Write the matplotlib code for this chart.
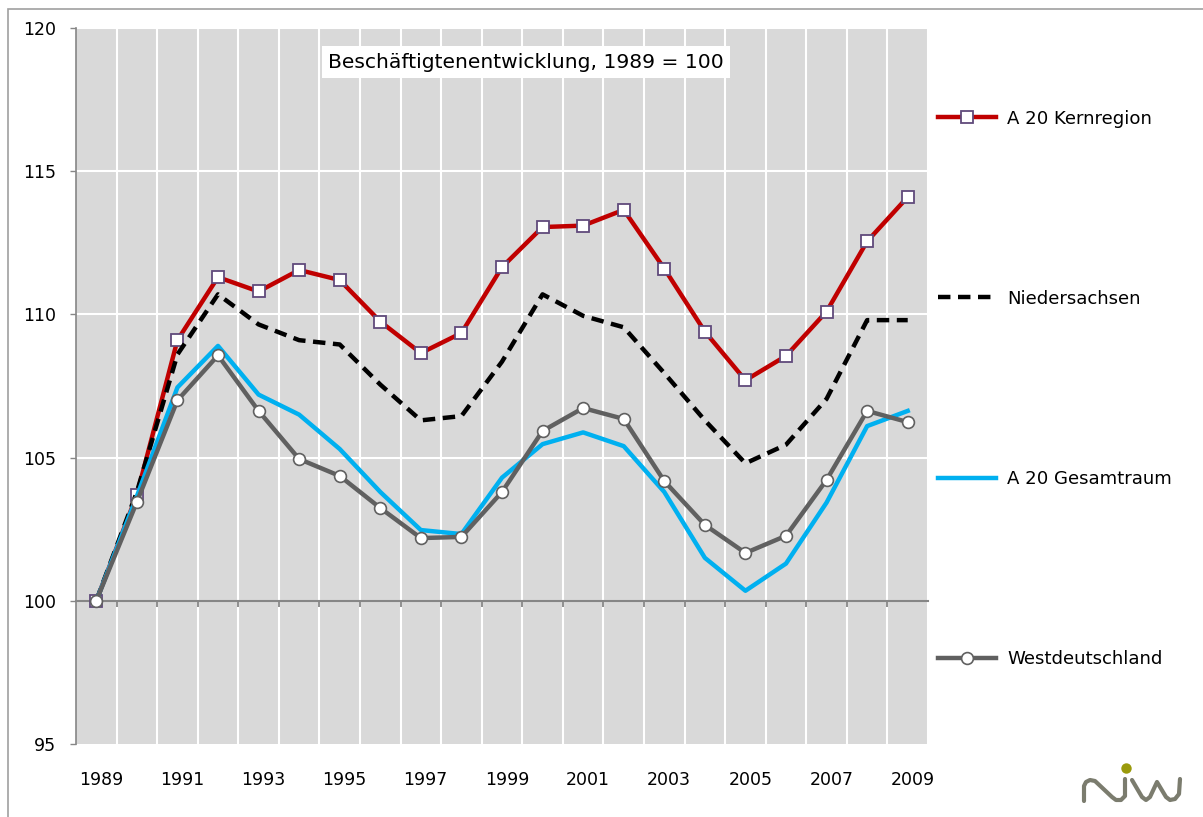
import matplotlib.pyplot as plt
from matplotlib.lines import Line2D
from matplotlib.patches import Rectangle
import numpy as np

plt.rcParams["font.family"] = ["DejaVu Sans"]

years = list(range(1989, 2010))
kernregion = [100, 103.7, 109.1, 111.3, 110.8, 111.55, 111.2, 109.75, 108.65, 109.35,
              111.65, 113.05, 113.1, 113.65, 111.6, 109.4, 107.7, 108.55, 110.1, 112.55, 114.1]
niedersachsen = [100, 103.8, 108.6, 110.7, 109.65, 109.1, 108.95, 107.55, 106.3, 106.45,
                 108.35, 110.7, 109.95, 109.55, 107.95, 106.3, 104.8, 105.45, 107.05, 109.8, 109.8]
gesamtraum = [100, 103.65, 107.45, 108.9, 107.2, 106.5, 105.3, 103.8, 102.47, 102.33,
              104.3, 105.47, 105.88, 105.4, 103.8, 101.5, 100.35, 101.3, 103.43, 106.1, 106.63]
westdeutschland = [100, 103.45, 107.0, 108.57, 106.63, 104.95, 104.36, 103.24, 102.19, 102.23,
                   103.8, 105.93, 106.73, 106.35, 104.18, 102.65, 101.67, 102.27, 104.22, 106.63, 106.24]
labels = ["A 20 Kernregion", "Niedersachsen", "A 20 Gesamtraum", "Westdeutschland"]
title = "Beschäftigtenentwicklung, 1989 = 100"

W, H = 1203, 817
fig = plt.figure(figsize=(W / 100, H / 100), dpi=100)
ax = fig.add_axes([76 / W, 1 - 744 / H, 852 / W, 716 / H])
ax.set_facecolor("#d9d9d9")

x = np.arange(len(years))
l1, = ax.plot(x, kernregion, color="#c00000", lw=3.2, marker="s", ms=9,
              mfc="white", mec="#604a7b", mew=1.3, zorder=3)
l2, = ax.plot(x, niedersachsen, color="black", lw=3.2, ls=(0, (2.8, 1.7)), zorder=4)
l3, = ax.plot(x, gesamtraum, color="#00b0f0", lw=3.2, zorder=5)
l4, = ax.plot(x, westdeutschland, color="#606060", lw=3.2, marker="o", ms=8.5,
              mfc="white", mec="#606060", mew=1.2, zorder=6)

ax.set_xlim(-0.5, len(years) - 0.5)
ax.set_ylim(95, 120)

# white grid: verticals between categories, horizontals at major ticks
for b in np.arange(0.5, len(years), 1.0):
    ax.axvline(b, color="white", lw=1.5, zorder=1)
for yv in [105, 110, 115, 120]:
    ax.axhline(yv, color="white", lw=1.5, zorder=1)

ax.set_yticks([95, 100, 105, 110, 115, 120])
ax.tick_params(axis="y", direction="out", length=4.3, width=1, color="#868686",
               labelsize=12.5, pad=10)
ax.set_xticks(np.arange(0.5, len(years) - 1, 1.0))
ax.set_xticklabels([])
ax.tick_params(axis="x", direction="out", length=4.3, width=1.3, color="#868686")
ax.spines["bottom"].set_position(("data", 100))
ax.spines["bottom"].set_color("#868686")
ax.spines["bottom"].set_linewidth(1.5)
ax.spines["bottom"].set_zorder(2)
ax.spines["left"].set_color("#868686")
ax.spines["left"].set_linewidth(1.2)
ax.spines["top"].set_visible(False)
ax.spines["right"].set_visible(False)

trans = ax.get_xaxis_transform()
for i, yr in enumerate(years):
    if i % 2 == 0:
        ax.text(i + 0.12, -0.05, str(yr), transform=trans, ha="center", va="center",
                fontsize=12.5)

ax.text(0.528, 0.9525, title, transform=ax.transAxes, ha="center", va="center",
        fontsize=14.6, zorder=7,
        bbox=dict(boxstyle="square,pad=0.3", facecolor="white", edgecolor="none"))

fig.legend([l1, l2, l3, l4], labels, loc="center left",
           bbox_to_anchor=(938 / W, 1 - 389 / H), frameon=False, fontsize=13.1,
           handlelength=3.2, handletextpad=0.6, labelspacing=8.92, borderpad=0,
           borderaxespad=0, numpoints=1)

# outer frame (top and left edges)
fig.add_artist(Rectangle((8 / W, -0.1), 1.2, 1 - 9 / H + 0.1, transform=fig.transFigure,
                         fill=False, edgecolor="#a0a0a0", lw=1.2))

# niw logo
def fp(pts):
    return [p[0] / W for p in pts], [1 - p[1] / H for p in pts]

logo_n = [(1084, 801), (1084, 786), (1086, 782), (1090, 780), (1095, 781),
          (1112, 797), (1116, 800), (1121, 800), (1125, 796), (1125, 779)]
logo_w = [(1132, 780), (1142, 797), (1146, 800), (1150, 797), (1157, 782), (1166, 797),
          (1170, 800), (1175, 799), (1179, 794), (1180, 779)]
for pts in (logo_n, logo_w):
    xs, ys = fp(pts)
    fig.add_artist(Line2D(xs, ys, transform=fig.transFigure, color="#7b7c6e", lw=3,
                          solid_capstyle="round", solid_joinstyle="round"))
fig.add_artist(Line2D([1126 / W], [1 - 768 / H], transform=fig.transFigure, marker="o",
                      ms=7.5, color="#9a9a0c", mec="none", ls="none"))

fig.savefig("out.png", dpi=100)
